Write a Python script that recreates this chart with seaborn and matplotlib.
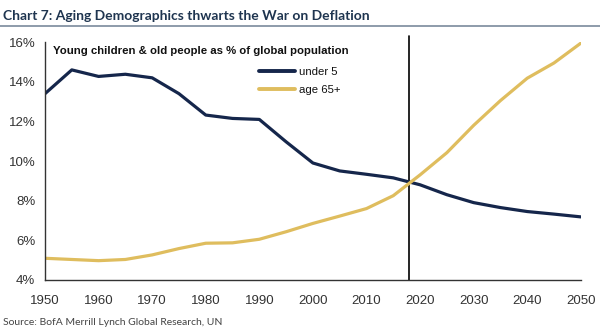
import matplotlib
matplotlib.use("Agg")
import matplotlib.pyplot as plt
import matplotlib.lines as mlines
import seaborn as sns
import pandas as pd
from matplotlib.ticker import FuncFormatter

years = [1950, 1955, 1960, 1965, 1970, 1975, 1980, 1985, 1990, 1995, 2000,
         2005, 2010, 2015, 2020, 2025, 2030, 2035, 2040, 2045, 2050]
under5 = [13.4, 14.6, 14.27, 14.38, 14.2, 13.4, 12.32, 12.15, 12.1, 10.97, 9.9,
          9.5, 9.33, 9.15, 8.8, 8.3, 7.9, 7.65, 7.45, 7.32, 7.18]
age65 = [5.09, 5.03, 4.97, 5.03, 5.26, 5.58, 5.85, 5.87, 6.05, 6.43, 6.85,
         7.22, 7.6, 8.25, 9.3, 10.42, 11.8, 13.05, 14.18, 14.95, 15.95]
series_names = ["under 5", "age 65+"]
colors = ["#15264b", "#dfbd5e"]
xticks = [1950, 1960, 1970, 1980, 1990, 2000, 2010, 2020, 2030, 2040, 2050]
yticks = [4, 6, 8, 10, 12, 14, 16]
marker_year = 2018

title = "Chart 7: Aging Demographics thwarts the War on Deflation"
subtitle = "Young children & old people as % of global population"
source = "Source: BofA Merrill Lynch Global Research, UN"

df = pd.DataFrame({
    "year": years * 2,
    "value": under5 + age65,
    "series": [series_names[0]] * len(years) + [series_names[1]] * len(years),
})

sns.set_style("white")
plt.rcParams["font.family"] = ["Liberation Sans", "DejaVu Sans"]

fig = plt.figure(figsize=(6, 3.32), dpi=100)
ax = fig.add_axes([0.075, 0.157, 0.893, 0.716])

sns.lineplot(data=df, x="year", y="value", hue="series", palette=colors,
             hue_order=series_names, linewidth=2.3, ax=ax, legend=False)

ax.set_xlim(1950, 2050)
ax.set_ylim(4, 16)
ax.set_xticks(xticks)
ax.set_yticks(yticks)
ax.yaxis.set_major_formatter(FuncFormatter(lambda v, p: f"{v:.0f}%"))
ax.set_xlabel("")
ax.set_ylabel("")
for s in ["top", "right"]:
    ax.spines[s].set_visible(False)
for s in ["left", "bottom"]:
    ax.spines[s].set_color("#333333")
    ax.spines[s].set_linewidth(1.0)
ax.tick_params(axis="both", which="major", direction="out", length=4, width=1,
               color="#333333", labelsize=9.5, labelcolor="#333333")
ax.tick_params(axis="x", pad=7)
ax.tick_params(axis="y", pad=3)

ax.axvline(marker_year, ymin=0, ymax=1.025, color="black", linewidth=1.2,
           clip_on=False, zorder=1)

ax.text(0.015, 0.985, subtitle, transform=ax.transAxes, fontsize=8.2,
        fontweight="bold", color="#111111", va="top", ha="left")

handles = [mlines.Line2D([], [], color=c, linewidth=2.8) for c in colors]
leg = ax.legend(handles, series_names, loc="upper left",
                bbox_to_anchor=(0.38, 0.94), frameon=False, fontsize=8.2,
                handlelength=3.2, handletextpad=0.3, labelspacing=0.75)
for t in leg.get_texts():
    t.set_color("#111111")

fig.text(0.005, 0.953, title, fontsize=10, fontweight="bold", color="#1f3550",
         family=["Lato", "Liberation Sans", "DejaVu Sans"],
         va="center", ha="left")
fig.add_artist(mlines.Line2D([0.0, 1.0], [0.922, 0.922], transform=fig.transFigure,
                             color="#7a8a9c", linewidth=1.2))
fig.text(0.005, 0.03, source, fontsize=7.5, color="#444444",
         family=["Lato", "Liberation Sans", "DejaVu Sans"],
         va="center", ha="left")

fig.savefig("out.png", dpi=100, facecolor="white")
